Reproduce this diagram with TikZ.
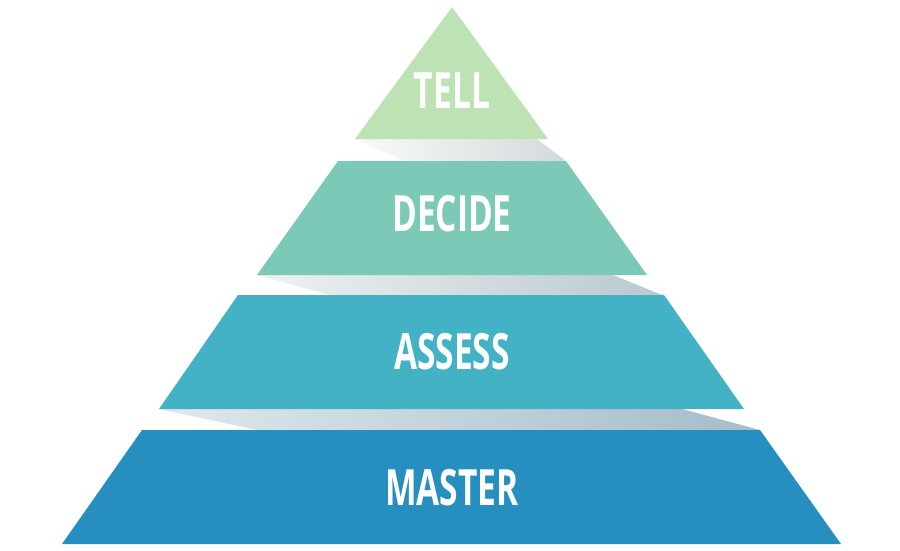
\documentclass[tikz,border=0pt]{standalone}
\usepackage{fontspec}
\setmainfont{Open Sans}
\newfontfamily\labelfont[FakeStretch=0.67]{Open Sans}
\definecolor{tellc}{HTML}{BDE3B5}
\definecolor{decidec}{HTML}{7DC9B7}
\definecolor{assessc}{HTML}{43B2C4}
\definecolor{masterc}{HTML}{268FBF}
\definecolor{bandA}{HTML}{D3DADC}
\definecolor{bandB}{HTML}{B9C9CE}
\definecolor{bandC}{HTML}{A4BCCA}
\tikzset{
  lvl/.style={font=\labelfont\bfseries\fontsize{50}{50}\selectfont, text=white, inner sep=0pt, anchor=center},
  band/.style={draw=none}
}
\begin{document}
\begin{tikzpicture}[x=1pt,y=-1pt]
\useasboundingbox (0,0) rectangle (900,550);
\fill[white] (0,0) rectangle (900,550);
% gray fold bands
\shade[band, left color=bandA!15!white, right color=bandA] (355,139) -- (537,139) -- (566,161) -- (405,161) -- cycle;
\shade[band, left color=bandB!25!white, right color=bandB] (257,275) -- (613,275) -- (662,295) -- (330,295) -- cycle;
\shade[band, left color=bandC!35!white, right color=bandC] (159,409) -- (682,409) -- (760,430) -- (257,430) -- cycle;
% levels
\fill[tellc] (452,7) -- (548,139) -- (355,139) -- cycle;
\fill[decidec] (338,161) -- (566,161) -- (647,275) -- (257,275) -- cycle;
\fill[assessc] (238,295) -- (664,295) -- (744,409) -- (159,409) -- cycle;
\fill[masterc] (142,430) -- (760,430) -- (841,544) -- (62,544) -- cycle;
% labels
\node[lvl] (tell) at (452,91) {TELL};
\node[lvl] (decide) at (452,214) {DECIDE};
\node[lvl] (assess) at (452,352) {ASSESS};
\node[lvl] (master) at (452,488) {MASTER};
\end{tikzpicture}
\end{document}
